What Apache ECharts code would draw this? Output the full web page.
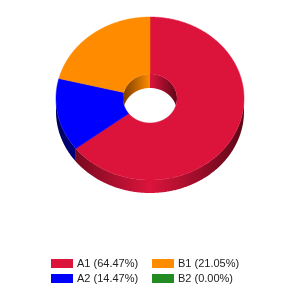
<!DOCTYPE html>
<html>
<head>
<meta charset="utf-8">
<script src="https://cdn.jsdelivr.net/npm/echarts@6/dist/echarts.min.js"></script>
<style>
html, body { margin: 0; padding: 0; background: #fff; }
#plot { width: 300px; height: 300px; }
</style>
</head>
<body>
<div id="plot"></div>
<script>
var names = ['A1', 'A2', 'B1', 'B2'];
var values = [64.47, 14.47, 21.05, 0.00];
var colors = ['#DC143C', '#0000FF', '#FF8C00', '#228B22'];
var darkColors = ['#5E0718', '#00005A', '#7A3C00', '#0B3A0B'];

// layout of the tilted donut
var cx = 150, cy = 98.5, rx = 94, ry = 81.5, depth = 13;
var irx = 27, iry = 24.5, idepth = 14;

function pt(a, rX, rY, dy) {
	return [cx + rX * Math.cos(a), cy + rY * Math.sin(a) + (dy || 0)];
}
function arc(a0, a1, rX, rY, dy) {
	var pts = [], n = Math.max(2, Math.ceil(Math.abs(a1 - a0) / 0.01));
	for (var i = 0; i <= n; i++) pts.push(pt(a0 + (a1 - a0) * i / n, rX, rY, dy));
	return pts;
}
function clipRange(a0, a1, b0, b1) {
	var s = Math.max(a0, b0), e = Math.min(a1, b1);
	return e > s ? [s, e] : null;
}
function sideGrad(i, x0, x1) {
	return {
		type: 'linear', x: x0, y: 0, x2: x1, y2: 0, global: true,
		colorStops: [
			{offset: 0, color: darkColors[i]},
			{offset: 0.5, color: colors[i]},
			{offset: 1, color: darkColors[i]}
		]
	};
}

var total = values.reduce(function (s, v) { return s + v; }, 0);
var starts = [], acc = 0;
for (var k = 0; k < values.length; k++) { starts.push(acc); acc += values[k]; }

function renderSlice(params, api) {
	var i = params.seriesIndex;
	var children = [];
	if (values[i] <= 0) return {type: 'group', children: []};
	var a0 = -Math.PI / 2 + 2 * Math.PI * starts[i] / total;
	var a1 = a0 + 2 * Math.PI * values[i] / total;

	// outer side wall, front half
	var r = clipRange(a0, a1, 0, Math.PI);
	if (r) {
		var top = arc(r[0], r[1], rx, ry, 0);
		var bot = arc(r[1], r[0], rx, ry, depth);
		children.push({type: 'polygon', shape: {points: top.concat(bot)},
			style: {fill: sideGrad(i, cx - rx, cx + rx), stroke: null}});
	}
	// inner wall, back half, seen through the hole
	[[-Math.PI / 2, 0], [Math.PI, 1.5 * Math.PI]].forEach(function (h) {
		var q = clipRange(a0, a1, h[0], h[1]);
		if (!q) return;
		var top = arc(q[0], q[1], irx, iry, 0);
		var n = top.length - 1, bot = [];
		for (var j = n; j >= 0; j--) {
			var a = q[0] + (q[1] - q[0]) * j / n;
			var y = Math.min(cy + iry * Math.sin(a) + idepth, cy + iry * Math.abs(Math.sin(a)));
			bot.push([cx + irx * Math.cos(a), y]);
		}
		children.push({type: 'polygon', shape: {points: top.concat(bot)},
			style: {fill: sideGrad(i, cx - irx, cx + irx), stroke: null}});
	});
	// top face
	var outer = arc(a0, a1, rx, ry, 0);
	var inner = arc(a1, a0, irx, iry, 0);
	children.push({type: 'polygon', shape: {points: outer.concat(inner)},
		style: {fill: colors[i], stroke: colors[i], lineWidth: 0.5}});
	return {type: 'group', children: children};
}

var labels = names.map(function (n, i) { return n + ' (' + values[i].toFixed(2) + '%)'; });

var series = names.map(function (n, i) {
	return {
		name: labels[i],
		type: 'custom',
		coordinateSystem: 'none',
		renderItem: renderSlice,
		itemStyle: {color: colors[i]},
		silent: true,
		data: [[values[i]]]
	};
});

var legendBase = {
	orient: 'vertical',
	top: 257,
	icon: 'rect',
	itemWidth: 22,
	itemHeight: 9,
	itemGap: 2,
	padding: 0,
	selectedMode: false,
	textStyle: {fontFamily: 'Liberation Sans, Arial, sans-serif', fontSize: 11, color: '#222', lineHeight: 13, padding: [0, 0, 0, -1]}
};

var option = {
	animation: false,
	legend: [
		Object.assign({left: 51, data: [labels[0], labels[1]]}, legendBase),
		Object.assign({left: 152, data: [labels[2], labels[3]]}, legendBase)
	],
	series: series
};

var myChart = echarts.init(document.getElementById('plot'));
myChart.setOption(option);
</script>
</body>
</html>
